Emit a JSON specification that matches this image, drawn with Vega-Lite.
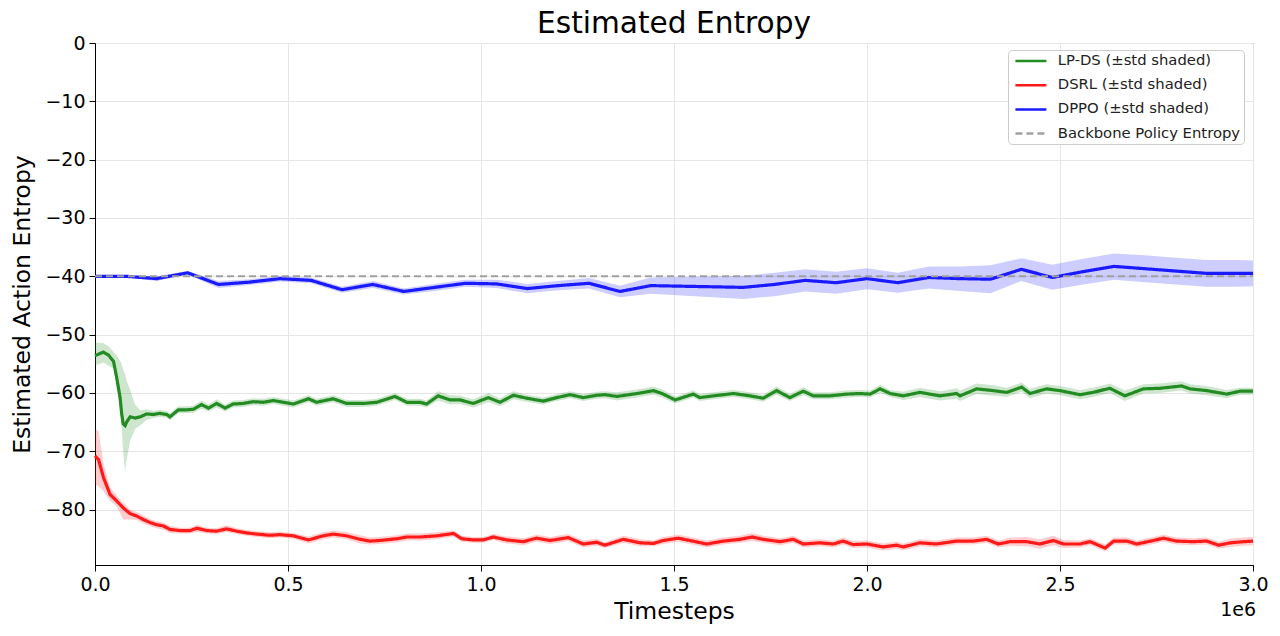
{
  "$schema": "https://vega.github.io/schema/vega-lite/v6.json",
  "width": 1158,
  "height": 522,
  "autosize": {"type": "none"},
  "padding": {"left": 95, "top": 43, "right": 27, "bottom": 71},
  "background": "white",
  "title": {"text": "Estimated Entropy", "fontSize": 29.6, "font": "DejaVu Sans", "fontWeight": "normal", "color": "#000", "anchor": "middle", "baseline": "alphabetic", "offset": -29},
  "datasets": {
    "ref": [
      {"s": "Backbone Policy Entropy", "t": 0, "y": -40},
      {"s": "Backbone Policy Entropy", "t": 3, "y": -40}
    ],
    "runs": [
      {"s":"DPPO","t":0,"y":-40.0,"lo":-40.1,"hi":-39.9},
      {"s":"DPPO","t":0.08,"y":-40.0,"lo":-40.2,"hi":-39.8},
      {"s":"DPPO","t":0.16,"y":-40.4,"lo":-40.8,"hi":-40.0},
      {"s":"DPPO","t":0.24,"y":-39.4,"lo":-39.7,"hi":-39.1},
      {"s":"DPPO","t":0.32,"y":-41.4,"lo":-42.0,"hi":-40.8},
      {"s":"DPPO","t":0.40,"y":-41.0,"lo":-41.5,"hi":-40.5},
      {"s":"DPPO","t":0.48,"y":-40.4,"lo":-40.9,"hi":-39.9},
      {"s":"DPPO","t":0.56,"y":-40.7,"lo":-41.2,"hi":-40.2},
      {"s":"DPPO","t":0.64,"y":-42.3,"lo":-42.8,"hi":-41.8},
      {"s":"DPPO","t":0.72,"y":-41.4,"lo":-42.0,"hi":-40.8},
      {"s":"DPPO","t":0.80,"y":-42.6,"lo":-43.1,"hi":-42.1},
      {"s":"DPPO","t":0.88,"y":-41.9,"lo":-42.5,"hi":-41.3},
      {"s":"DPPO","t":0.96,"y":-41.2,"lo":-41.8,"hi":-40.6},
      {"s":"DPPO","t":1.04,"y":-41.3,"lo":-42.0,"hi":-40.6},
      {"s":"DPPO","t":1.12,"y":-42.1,"lo":-42.9,"hi":-41.3},
      {"s":"DPPO","t":1.20,"y":-41.6,"lo":-42.4,"hi":-40.8},
      {"s":"DPPO","t":1.28,"y":-41.2,"lo":-42.1,"hi":-40.3},
      {"s":"DPPO","t":1.36,"y":-42.6,"lo":-43.6,"hi":-41.6},
      {"s":"DPPO","t":1.44,"y":-41.6,"lo":-43.0,"hi":-40.2},
      {"s":"DPPO","t":1.52,"y":-41.7,"lo":-43.3,"hi":-40.1},
      {"s":"DPPO","t":1.60,"y":-41.8,"lo":-43.6,"hi":-40.0},
      {"s":"DPPO","t":1.68,"y":-41.9,"lo":-43.9,"hi":-39.9},
      {"s":"DPPO","t":1.76,"y":-41.4,"lo":-43.4,"hi":-39.4},
      {"s":"DPPO","t":1.84,"y":-40.7,"lo":-42.6,"hi":-38.8},
      {"s":"DPPO","t":1.92,"y":-41.1,"lo":-43.0,"hi":-39.2},
      {"s":"DPPO","t":2.00,"y":-40.4,"lo":-42.2,"hi":-38.6},
      {"s":"DPPO","t":2.08,"y":-41.1,"lo":-42.8,"hi":-39.4},
      {"s":"DPPO","t":2.16,"y":-40.2,"lo":-42.1,"hi":-38.3},
      {"s":"DPPO","t":2.24,"y":-40.4,"lo":-42.5,"hi":-38.3},
      {"s":"DPPO","t":2.32,"y":-40.5,"lo":-42.9,"hi":-38.1},
      {"s":"DPPO","t":2.40,"y":-38.8,"lo":-40.8,"hi":-36.9},
      {"s":"DPPO","t":2.48,"y":-40.2,"lo":-42.3,"hi":-38.0},
      {"s":"DPPO","t":2.56,"y":-39.2,"lo":-41.4,"hi":-37.0},
      {"s":"DPPO","t":2.64,"y":-38.3,"lo":-40.6,"hi":-36.1},
      {"s":"DPPO","t":2.72,"y":-38.7,"lo":-41.0,"hi":-36.4},
      {"s":"DPPO","t":2.80,"y":-39.1,"lo":-41.4,"hi":-36.8},
      {"s":"DPPO","t":2.88,"y":-39.5,"lo":-41.8,"hi":-37.2},
      {"s":"DPPO","t":2.96,"y":-39.5,"lo":-41.8,"hi":-37.2},
      {"s":"DPPO","t":3.00,"y":-39.5,"lo":-41.7,"hi":-37.3},

      {"s":"LP-DS","t":0,"y":-53.6,"lo":-55.3,"hi":-51.3},
      {"s":"LP-DS","t":0.022,"y":-53.0,"lo":-54.8,"hi":-51.5},
      {"s":"LP-DS","t":0.035,"y":-53.5,"lo":-55.3,"hi":-52.0},
      {"s":"LP-DS","t":0.048,"y":-54.6,"lo":-55.8,"hi":-53.0},
      {"s":"LP-DS","t":0.056,"y":-57.3,"lo":-58.5,"hi":-53.6},
      {"s":"LP-DS","t":0.065,"y":-60.8,"lo":-63.0,"hi":-54.5},
      {"s":"LP-DS","t":0.069,"y":-63.5,"lo":-66.0,"hi":-55.0},
      {"s":"LP-DS","t":0.073,"y":-65.3,"lo":-70.0,"hi":-56.0},
      {"s":"LP-DS","t":0.078,"y":-65.6,"lo":-73.4,"hi":-56.8},
      {"s":"LP-DS","t":0.082,"y":-65.0,"lo":-71.5,"hi":-57.9},
      {"s":"LP-DS","t":0.091,"y":-64.1,"lo":-68.2,"hi":-59.5},
      {"s":"LP-DS","t":0.104,"y":-64.3,"lo":-66.2,"hi":-62.0},
      {"s":"LP-DS","t":0.117,"y":-64.1,"lo":-65.6,"hi":-63.0},
      {"s":"LP-DS","t":0.134,"y":-63.6,"lo":-64.6,"hi":-62.8},
      {"s":"LP-DS","t":0.151,"y":-63.7,"lo":-64.3,"hi":-63.1},
      {"s":"LP-DS","t":0.168,"y":-63.5,"lo":-64.1,"hi":-62.9},
      {"s":"LP-DS","t":0.186,"y":-63.7,"lo":-64.3,"hi":-63.1},
      {"s":"LP-DS","t":0.194,"y":-64.1,"lo":-64.7,"hi":-63.5},
      {"s":"LP-DS","t":0.216,"y":-62.9,"lo":-63.5,"hi":-62.3},
      {"s":"LP-DS","t":0.237,"y":-62.9,"lo":-63.5,"hi":-62.3},
      {"s":"LP-DS","t":0.255,"y":-62.8,"lo":-63.4,"hi":-62.2},
      {"s":"LP-DS","t":0.276,"y":-62.0,"lo":-62.7,"hi":-61.3},
      {"s":"LP-DS","t":0.294,"y":-62.6,"lo":-63.2,"hi":-62.0},
      {"s":"LP-DS","t":0.315,"y":-61.8,"lo":-62.5,"hi":-61.1},
      {"s":"LP-DS","t":0.337,"y":-62.6,"lo":-63.2,"hi":-62.0},
      {"s":"LP-DS","t":0.358,"y":-61.9,"lo":-62.5,"hi":-61.3},
      {"s":"LP-DS","t":0.384,"y":-61.8,"lo":-62.4,"hi":-61.2},
      {"s":"LP-DS","t":0.41,"y":-61.5,"lo":-62.1,"hi":-60.9},
      {"s":"LP-DS","t":0.436,"y":-61.6,"lo":-62.2,"hi":-61.0},
      {"s":"LP-DS","t":0.462,"y":-61.3,"lo":-61.9,"hi":-60.7},
      {"s":"LP-DS","t":0.488,"y":-61.6,"lo":-62.2,"hi":-61.0},
      {"s":"LP-DS","t":0.514,"y":-61.9,"lo":-62.5,"hi":-61.3},
      {"s":"LP-DS","t":0.553,"y":-61.0,"lo":-61.6,"hi":-60.4},
      {"s":"LP-DS","t":0.574,"y":-61.6,"lo":-62.2,"hi":-61.0},
      {"s":"LP-DS","t":0.617,"y":-61.0,"lo":-61.6,"hi":-60.4},
      {"s":"LP-DS","t":0.652,"y":-61.8,"lo":-62.4,"hi":-61.2},
      {"s":"LP-DS","t":0.695,"y":-61.8,"lo":-62.4,"hi":-61.2},
      {"s":"LP-DS","t":0.73,"y":-61.6,"lo":-62.2,"hi":-61.0},
      {"s":"LP-DS","t":0.777,"y":-60.6,"lo":-61.2,"hi":-60.0},
      {"s":"LP-DS","t":0.808,"y":-61.6,"lo":-62.2,"hi":-61.0},
      {"s":"LP-DS","t":0.842,"y":-61.6,"lo":-62.2,"hi":-61.0},
      {"s":"LP-DS","t":0.859,"y":-61.9,"lo":-62.5,"hi":-61.3},
      {"s":"LP-DS","t":0.889,"y":-60.5,"lo":-61.3,"hi":-59.7},
      {"s":"LP-DS","t":0.92,"y":-61.2,"lo":-62.0,"hi":-60.4},
      {"s":"LP-DS","t":0.946,"y":-61.2,"lo":-61.9,"hi":-60.5},
      {"s":"LP-DS","t":0.98,"y":-61.8,"lo":-62.5,"hi":-61.1},
      {"s":"LP-DS","t":1.019,"y":-60.8,"lo":-61.6,"hi":-60.0},
      {"s":"LP-DS","t":1.049,"y":-61.6,"lo":-62.3,"hi":-60.9},
      {"s":"LP-DS","t":1.084,"y":-60.4,"lo":-61.1,"hi":-59.7},
      {"s":"LP-DS","t":1.118,"y":-60.9,"lo":-61.5,"hi":-60.3},
      {"s":"LP-DS","t":1.161,"y":-61.4,"lo":-62.0,"hi":-60.8},
      {"s":"LP-DS","t":1.196,"y":-60.8,"lo":-61.4,"hi":-60.2},
      {"s":"LP-DS","t":1.231,"y":-60.3,"lo":-60.9,"hi":-59.7},
      {"s":"LP-DS","t":1.265,"y":-60.8,"lo":-61.4,"hi":-60.2},
      {"s":"LP-DS","t":1.3,"y":-60.4,"lo":-61.0,"hi":-59.8},
      {"s":"LP-DS","t":1.321,"y":-60.3,"lo":-60.9,"hi":-59.7},
      {"s":"LP-DS","t":1.352,"y":-60.6,"lo":-61.3,"hi":-59.9},
      {"s":"LP-DS","t":1.404,"y":-60.1,"lo":-60.8,"hi":-59.4},
      {"s":"LP-DS","t":1.447,"y":-59.6,"lo":-60.3,"hi":-58.9},
      {"s":"LP-DS","t":1.469,"y":-60.1,"lo":-60.8,"hi":-59.4},
      {"s":"LP-DS","t":1.503,"y":-61.2,"lo":-61.8,"hi":-60.6},
      {"s":"LP-DS","t":1.55,"y":-60.2,"lo":-60.8,"hi":-59.6},
      {"s":"LP-DS","t":1.567,"y":-60.8,"lo":-61.4,"hi":-60.2},
      {"s":"LP-DS","t":1.602,"y":-60.5,"lo":-61.1,"hi":-59.9},
      {"s":"LP-DS","t":1.654,"y":-60.1,"lo":-60.7,"hi":-59.5},
      {"s":"LP-DS","t":1.697,"y":-60.5,"lo":-61.1,"hi":-59.9},
      {"s":"LP-DS","t":1.731,"y":-60.9,"lo":-61.5,"hi":-60.3},
      {"s":"LP-DS","t":1.766,"y":-59.6,"lo":-60.3,"hi":-58.9},
      {"s":"LP-DS","t":1.8,"y":-60.8,"lo":-61.4,"hi":-60.2},
      {"s":"LP-DS","t":1.835,"y":-59.7,"lo":-60.4,"hi":-59.0},
      {"s":"LP-DS","t":1.861,"y":-60.5,"lo":-61.1,"hi":-59.9},
      {"s":"LP-DS","t":1.904,"y":-60.5,"lo":-61.1,"hi":-59.9},
      {"s":"LP-DS","t":1.947,"y":-60.2,"lo":-60.8,"hi":-59.6},
      {"s":"LP-DS","t":1.982,"y":-60.1,"lo":-60.7,"hi":-59.5},
      {"s":"LP-DS","t":2.008,"y":-60.2,"lo":-60.8,"hi":-59.6},
      {"s":"LP-DS","t":2.034,"y":-59.3,"lo":-60.0,"hi":-58.6},
      {"s":"LP-DS","t":2.06,"y":-60.1,"lo":-60.7,"hi":-59.5},
      {"s":"LP-DS","t":2.094,"y":-60.5,"lo":-61.2,"hi":-59.8},
      {"s":"LP-DS","t":2.137,"y":-59.9,"lo":-60.7,"hi":-59.1},
      {"s":"LP-DS","t":2.189,"y":-60.5,"lo":-61.3,"hi":-59.7},
      {"s":"LP-DS","t":2.232,"y":-60.1,"lo":-61.0,"hi":-59.2},
      {"s":"LP-DS","t":2.241,"y":-60.5,"lo":-61.4,"hi":-59.6},
      {"s":"LP-DS","t":2.284,"y":-59.3,"lo":-60.2,"hi":-58.4},
      {"s":"LP-DS","t":2.327,"y":-59.6,"lo":-60.5,"hi":-58.7},
      {"s":"LP-DS","t":2.362,"y":-59.9,"lo":-60.7,"hi":-59.1},
      {"s":"LP-DS","t":2.401,"y":-59.0,"lo":-59.8,"hi":-58.2},
      {"s":"LP-DS","t":2.422,"y":-60.1,"lo":-60.9,"hi":-59.3},
      {"s":"LP-DS","t":2.465,"y":-59.3,"lo":-60.1,"hi":-58.5},
      {"s":"LP-DS","t":2.5,"y":-59.6,"lo":-60.4,"hi":-58.8},
      {"s":"LP-DS","t":2.552,"y":-60.3,"lo":-61.1,"hi":-59.5},
      {"s":"LP-DS","t":2.586,"y":-59.9,"lo":-60.7,"hi":-59.1},
      {"s":"LP-DS","t":2.629,"y":-59.2,"lo":-60.0,"hi":-58.4},
      {"s":"LP-DS","t":2.668,"y":-60.5,"lo":-61.4,"hi":-59.6},
      {"s":"LP-DS","t":2.716,"y":-59.3,"lo":-60.1,"hi":-58.5},
      {"s":"LP-DS","t":2.759,"y":-59.2,"lo":-60.0,"hi":-58.4},
      {"s":"LP-DS","t":2.815,"y":-58.8,"lo":-59.6,"hi":-58.0},
      {"s":"LP-DS","t":2.837,"y":-59.3,"lo":-60.1,"hi":-58.5},
      {"s":"LP-DS","t":2.88,"y":-59.6,"lo":-60.4,"hi":-58.8},
      {"s":"LP-DS","t":2.932,"y":-60.2,"lo":-60.9,"hi":-59.5},
      {"s":"LP-DS","t":2.966,"y":-59.7,"lo":-60.3,"hi":-59.1},
      {"s":"LP-DS","t":3.0,"y":-59.7,"lo":-60.3,"hi":-59.1},

      {"s":"DSRL","t":0,"y":-70.8,"lo":-75.7,"hi":-66.2},
      {"s":"DSRL","t":0.009,"y":-71.4,"lo":-76.0,"hi":-66.5},
      {"s":"DSRL","t":0.022,"y":-74.5,"lo":-76.8,"hi":-72.2},
      {"s":"DSRL","t":0.039,"y":-77.4,"lo":-78.5,"hi":-76.2},
      {"s":"DSRL","t":0.056,"y":-78.5,"lo":-79.4,"hi":-77.6},
      {"s":"DSRL","t":0.073,"y":-79.7,"lo":-81.7,"hi":-78.8},
      {"s":"DSRL","t":0.091,"y":-80.7,"lo":-81.7,"hi":-80.0},
      {"s":"DSRL","t":0.108,"y":-81.1,"lo":-81.8,"hi":-80.4},
      {"s":"DSRL","t":0.125,"y":-81.7,"lo":-82.4,"hi":-81.0},
      {"s":"DSRL","t":0.142,"y":-82.2,"lo":-82.8,"hi":-81.6},
      {"s":"DSRL","t":0.16,"y":-82.6,"lo":-83.2,"hi":-82.0},
      {"s":"DSRL","t":0.177,"y":-82.8,"lo":-83.4,"hi":-82.2},
      {"s":"DSRL","t":0.194,"y":-83.4,"lo":-84.0,"hi":-82.8},
      {"s":"DSRL","t":0.22,"y":-83.6,"lo":-84.1,"hi":-83.1},
      {"s":"DSRL","t":0.246,"y":-83.6,"lo":-84.1,"hi":-83.1},
      {"s":"DSRL","t":0.264,"y":-83.2,"lo":-83.8,"hi":-82.6},
      {"s":"DSRL","t":0.29,"y":-83.6,"lo":-84.1,"hi":-83.1},
      {"s":"DSRL","t":0.315,"y":-83.7,"lo":-84.2,"hi":-83.2},
      {"s":"DSRL","t":0.341,"y":-83.3,"lo":-83.9,"hi":-82.7},
      {"s":"DSRL","t":0.367,"y":-83.7,"lo":-84.2,"hi":-83.2},
      {"s":"DSRL","t":0.393,"y":-84.0,"lo":-84.5,"hi":-83.5},
      {"s":"DSRL","t":0.419,"y":-84.2,"lo":-84.7,"hi":-83.7},
      {"s":"DSRL","t":0.453,"y":-84.4,"lo":-84.9,"hi":-83.9},
      {"s":"DSRL","t":0.479,"y":-84.3,"lo":-84.8,"hi":-83.8},
      {"s":"DSRL","t":0.514,"y":-84.5,"lo":-85.0,"hi":-84.0},
      {"s":"DSRL","t":0.553,"y":-85.2,"lo":-85.8,"hi":-84.6},
      {"s":"DSRL","t":0.591,"y":-84.5,"lo":-85.1,"hi":-83.9},
      {"s":"DSRL","t":0.617,"y":-84.2,"lo":-84.8,"hi":-83.6},
      {"s":"DSRL","t":0.652,"y":-84.5,"lo":-85.1,"hi":-83.9},
      {"s":"DSRL","t":0.687,"y":-85.1,"lo":-85.8,"hi":-84.4},
      {"s":"DSRL","t":0.712,"y":-85.4,"lo":-86.0,"hi":-84.8},
      {"s":"DSRL","t":0.738,"y":-85.3,"lo":-85.9,"hi":-84.7},
      {"s":"DSRL","t":0.782,"y":-85.0,"lo":-85.6,"hi":-84.4},
      {"s":"DSRL","t":0.808,"y":-84.7,"lo":-85.3,"hi":-84.1},
      {"s":"DSRL","t":0.842,"y":-84.7,"lo":-85.3,"hi":-84.1},
      {"s":"DSRL","t":0.885,"y":-84.5,"lo":-85.1,"hi":-83.9},
      {"s":"DSRL","t":0.929,"y":-84.1,"lo":-84.6,"hi":-83.6},
      {"s":"DSRL","t":0.95,"y":-85.0,"lo":-85.5,"hi":-84.5},
      {"s":"DSRL","t":0.98,"y":-85.2,"lo":-85.7,"hi":-84.7},
      {"s":"DSRL","t":1.006,"y":-85.2,"lo":-85.7,"hi":-84.7},
      {"s":"DSRL","t":1.032,"y":-84.7,"lo":-85.2,"hi":-84.2},
      {"s":"DSRL","t":1.066,"y":-85.2,"lo":-85.8,"hi":-84.6},
      {"s":"DSRL","t":1.11,"y":-85.5,"lo":-86.1,"hi":-84.9},
      {"s":"DSRL","t":1.144,"y":-84.9,"lo":-85.5,"hi":-84.3},
      {"s":"DSRL","t":1.179,"y":-85.3,"lo":-85.9,"hi":-84.7},
      {"s":"DSRL","t":1.226,"y":-84.8,"lo":-85.4,"hi":-84.2},
      {"s":"DSRL","t":1.265,"y":-85.9,"lo":-86.5,"hi":-85.3},
      {"s":"DSRL","t":1.3,"y":-85.6,"lo":-86.2,"hi":-85.0},
      {"s":"DSRL","t":1.321,"y":-86.1,"lo":-86.6,"hi":-85.6},
      {"s":"DSRL","t":1.369,"y":-85.1,"lo":-85.7,"hi":-84.5},
      {"s":"DSRL","t":1.412,"y":-85.7,"lo":-86.3,"hi":-85.1},
      {"s":"DSRL","t":1.447,"y":-85.8,"lo":-86.3,"hi":-85.3},
      {"s":"DSRL","t":1.472,"y":-85.3,"lo":-85.9,"hi":-84.7},
      {"s":"DSRL","t":1.511,"y":-84.9,"lo":-85.5,"hi":-84.3},
      {"s":"DSRL","t":1.541,"y":-85.3,"lo":-85.9,"hi":-84.7},
      {"s":"DSRL","t":1.585,"y":-85.9,"lo":-86.5,"hi":-85.3},
      {"s":"DSRL","t":1.628,"y":-85.4,"lo":-86.0,"hi":-84.8},
      {"s":"DSRL","t":1.671,"y":-85.1,"lo":-85.7,"hi":-84.5},
      {"s":"DSRL","t":1.702,"y":-84.7,"lo":-85.4,"hi":-84.0},
      {"s":"DSRL","t":1.731,"y":-85.1,"lo":-85.7,"hi":-84.5},
      {"s":"DSRL","t":1.775,"y":-85.5,"lo":-86.1,"hi":-84.9},
      {"s":"DSRL","t":1.809,"y":-85.1,"lo":-85.7,"hi":-84.5},
      {"s":"DSRL","t":1.835,"y":-85.9,"lo":-86.5,"hi":-85.3},
      {"s":"DSRL","t":1.878,"y":-85.7,"lo":-86.3,"hi":-85.1},
      {"s":"DSRL","t":1.913,"y":-85.9,"lo":-86.5,"hi":-85.3},
      {"s":"DSRL","t":1.938,"y":-85.4,"lo":-86.0,"hi":-84.8},
      {"s":"DSRL","t":1.964,"y":-86.0,"lo":-86.6,"hi":-85.4},
      {"s":"DSRL","t":1.999,"y":-85.9,"lo":-86.5,"hi":-85.3},
      {"s":"DSRL","t":2.042,"y":-86.4,"lo":-87.0,"hi":-85.8},
      {"s":"DSRL","t":2.077,"y":-86.1,"lo":-86.7,"hi":-85.5},
      {"s":"DSRL","t":2.094,"y":-86.4,"lo":-87.0,"hi":-85.8},
      {"s":"DSRL","t":2.137,"y":-85.7,"lo":-86.3,"hi":-85.1},
      {"s":"DSRL","t":2.18,"y":-85.9,"lo":-86.5,"hi":-85.3},
      {"s":"DSRL","t":2.232,"y":-85.4,"lo":-86.0,"hi":-84.8},
      {"s":"DSRL","t":2.275,"y":-85.4,"lo":-86.0,"hi":-84.8},
      {"s":"DSRL","t":2.31,"y":-85.1,"lo":-85.7,"hi":-84.5},
      {"s":"DSRL","t":2.34,"y":-85.9,"lo":-86.5,"hi":-85.3},
      {"s":"DSRL","t":2.371,"y":-85.5,"lo":-86.2,"hi":-84.8},
      {"s":"DSRL","t":2.414,"y":-85.5,"lo":-86.3,"hi":-84.7},
      {"s":"DSRL","t":2.448,"y":-85.9,"lo":-86.7,"hi":-85.1},
      {"s":"DSRL","t":2.483,"y":-85.3,"lo":-86.1,"hi":-84.5},
      {"s":"DSRL","t":2.509,"y":-85.9,"lo":-86.6,"hi":-85.2},
      {"s":"DSRL","t":2.552,"y":-85.9,"lo":-86.5,"hi":-85.3},
      {"s":"DSRL","t":2.578,"y":-85.5,"lo":-86.1,"hi":-84.9},
      {"s":"DSRL","t":2.617,"y":-86.6,"lo":-87.2,"hi":-86.0},
      {"s":"DSRL","t":2.639,"y":-85.4,"lo":-86.0,"hi":-84.8},
      {"s":"DSRL","t":2.673,"y":-85.4,"lo":-86.0,"hi":-84.8},
      {"s":"DSRL","t":2.699,"y":-85.9,"lo":-86.5,"hi":-85.3},
      {"s":"DSRL","t":2.742,"y":-85.3,"lo":-85.9,"hi":-84.7},
      {"s":"DSRL","t":2.768,"y":-84.9,"lo":-85.5,"hi":-84.3},
      {"s":"DSRL","t":2.802,"y":-85.4,"lo":-86.0,"hi":-84.8},
      {"s":"DSRL","t":2.845,"y":-85.5,"lo":-86.1,"hi":-84.9},
      {"s":"DSRL","t":2.88,"y":-85.4,"lo":-86.0,"hi":-84.8},
      {"s":"DSRL","t":2.911,"y":-86.1,"lo":-86.7,"hi":-85.5},
      {"s":"DSRL","t":2.941,"y":-85.7,"lo":-86.4,"hi":-85.0},
      {"s":"DSRL","t":2.976,"y":-85.5,"lo":-86.2,"hi":-84.8},
      {"s":"DSRL","t":3.0,"y":-85.4,"lo":-86.1,"hi":-84.7}
    ]
  },
  "layer": [
    {
      "data": {"name": "runs"},
      "mark": {"type": "area", "opacity": 0.22},
      "encoding": {
        "x": {"field": "t", "type": "quantitative", "title": "Timesteps", "scale": {"domain": [0, 3], "nice": false, "zero": false}},
        "y": {"field": "lo", "type": "quantitative", "title": "Estimated Action Entropy", "scale": {"domain": [-89.5, 0], "nice": false, "zero": false}},
        "y2": {"field": "hi"},
        "fill": {"field": "s", "type": "nominal", "legend": null, "scale": {"domain": ["LP-DS", "DSRL", "DPPO"], "range": ["#228b22", "#ff1a1a", "#1a1aff"]}}
      }
    },
    {
      "data": {"name": "runs"},
      "mark": {"type": "line", "strokeWidth": 3.2},
      "encoding": {
        "x": {"field": "t", "type": "quantitative", "title": "Timesteps", "scale": {"domain": [0, 3], "nice": false, "zero": false},
          "axis": {"values": [0, 0.5, 1, 1.5, 2, 2.5, 3], "format": ".1f", "grid": true, "labelFlush": false, "labelPadding": 4, "titlePadding": 5}},
        "y": {"field": "y", "type": "quantitative", "title": "Estimated Action Entropy", "scale": {"domain": [-89.5, 0], "nice": false, "zero": false},
          "axis": {"values": [0, -10, -20, -30, -40, -50, -60, -70, -80], "grid": true, "labelFlush": false, "labelPadding": 4, "titlePadding": 10}},
        "color": {"field": "s", "type": "nominal", "scale": {"domain": ["LP-DS", "DSRL", "DPPO", "Backbone Policy Entropy"], "range": ["#228b22", "#ff1a1a", "#1a1aff", "#a0a0a0"]},
          "legend": {"title": null, "labelExpr": "datum.label == 'Backbone Policy Entropy' ? datum.label : datum.label + ' (±std shaded)'"}},
        "strokeDash": {"field": "s", "type": "nominal", "scale": {"domain": ["LP-DS", "DSRL", "DPPO", "Backbone Policy Entropy"], "range": [[1, 0], [1, 0], [1, 0], [7, 4]]},
          "legend": {"title": null, "labelExpr": "datum.label == 'Backbone Policy Entropy' ? datum.label : datum.label + ' (±std shaded)'"}}
      }
    },
    {
      "data": {"name": "ref"},
      "mark": {"type": "line", "strokeWidth": 2},
      "encoding": {
        "x": {"field": "t", "type": "quantitative", "title": "Timesteps", "scale": {"domain": [0, 3], "nice": false, "zero": false}},
        "y": {"field": "y", "type": "quantitative", "title": "Estimated Action Entropy", "scale": {"domain": [-89.5, 0], "nice": false, "zero": false}},
        "color": {"field": "s", "type": "nominal", "scale": {"domain": ["LP-DS", "DSRL", "DPPO", "Backbone Policy Entropy"], "range": ["#228b22", "#ff1a1a", "#1a1aff", "#a0a0a0"]},
          "legend": {"title": null, "labelExpr": "datum.label == 'Backbone Policy Entropy' ? datum.label : datum.label + ' (±std shaded)'"}},
        "strokeDash": {"field": "s", "type": "nominal", "scale": {"domain": ["LP-DS", "DSRL", "DPPO", "Backbone Policy Entropy"], "range": [[1, 0], [1, 0], [1, 0], [7, 4]]},
          "legend": {"title": null, "labelExpr": "datum.label == 'Backbone Policy Entropy' ? datum.label : datum.label + ' (±std shaded)'"}}
      }
    },
    {
      "data": {"values": [{"label": "1e6"}]},
      "mark": {"type": "text", "align": "right", "baseline": "middle", "dy": 45, "dx": 3, "fontSize": 19, "font": "DejaVu Sans", "color": "#000"},
      "encoding": {
        "text": {"field": "label"},
        "x": {"datum": 3, "type": "quantitative"},
        "y": {"datum": -89.5, "type": "quantitative"}
      }
    }
  ],
  "config": {
    "font": "DejaVu Sans",
    "view": {"stroke": "#000", "strokeWidth": 1},
    "axis": {
      "domainColor": "#000", "domainWidth": 1, "tickColor": "#000", "tickWidth": 1, "tickSize": 6,
      "gridColor": "#e6e6e6", "gridWidth": 1,
      "labelFont": "DejaVu Sans", "labelFontSize": 19, "labelColor": "#000",
      "titleFont": "DejaVu Sans", "titleFontSize": 23.5, "titleFontWeight": "normal", "titleColor": "#000"
    },
    "legend": {
      "orient": "none", "legendX": 913, "legendY": 7, "padding": 3.6,
      "fillColor": "white", "strokeColor": "#cccccc", "cornerRadius": 4,
      "labelFont": "DejaVu Sans", "labelFontSize": 14.8, "labelColor": "#222", "labelLimit": 320,
      "symbolType": "M-3.1,0H3.1", "symbolSize": 100, "symbolStrokeWidth": 2.5, "symbolOffset": 11.9,
      "rowPadding": 8.2, "labelOffset": 19.5
    }
  }
}
